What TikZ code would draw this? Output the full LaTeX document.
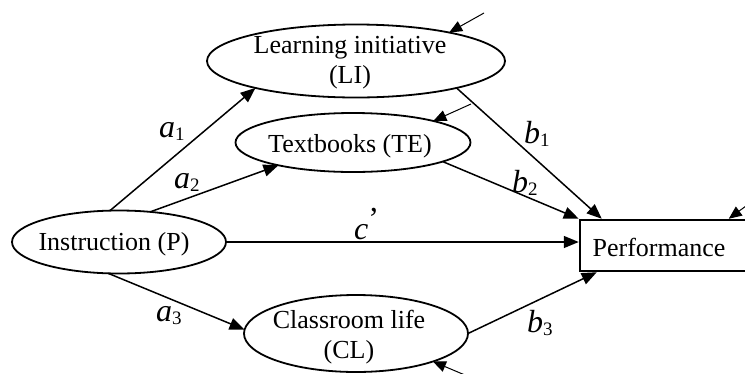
\documentclass[tikz,border=0pt]{standalone}
\usepackage{fontspec}
\setmainfont{Liberation Serif}
\usetikzlibrary{arrows.meta,shapes.geometric,calc}
\newcommand\coefsub[2]{\textit{#1}\raisebox{-3pt}{\fontsize{19}{21}\selectfont #2}}
\begin{document}
\begin{tikzpicture}[x=1pt,y=-1pt,
  ellbox/.style={draw, ellipse, line width=1.8pt, inner sep=0pt, outer sep=0pt},
  lbl/.style={font=\fontsize{26}{30}\selectfont, inner sep=0pt, align=center},
  coef/.style={font=\fontsize{32}{34}\selectfont, inner sep=0pt, anchor=base west},
  link/.style={line width=1.5pt, -{Triangle[length=15pt,width=12pt]}},
  res/.style={line width=1pt, -{Triangle[length=13pt,width=11pt]}}]
\useasboundingbox (0,0) rectangle (745,373);
% ellipses
\node[ellbox, minimum width=298pt, minimum height=73pt] (LI) at (356,61) {};
\node[ellbox, minimum width=235pt, minimum height=59pt] (TE) at (353,142.5) {};
\node[ellbox, minimum width=214pt, minimum height=63pt] (IP) at (119,242) {};
\node[ellbox, minimum width=224pt, minimum height=77pt] (CL) at (356,333.5) {};
\node[draw, rectangle, line width=2.5pt, inner sep=0pt, minimum width=180pt, minimum height=51pt] (PF) at (670,245.5) {};
% texts
\node[lbl] (LIt) at (350,63) {Learning initiative\\(LI)};
\node[lbl] (TEt) at (350,146) {Textbooks (TE)};
\node[lbl] (IPt) at (114,244) {Instruction (P)};
\node[lbl] (CLt) at (349,337) {Classroom life\\(CL)};
\node[lbl] (PFt) at (659,247) {Performance};
% paths
\draw[link] (IP.106) -- (LI.195);
\draw[link] (IP.44) -- (TE.197);
\draw[link] (IP.251) -- (CL.178);
\draw[link] (IP.east) -- (IP.east -| PF.west);
\draw[link] (LI.-15) -- ($(PF.north west)+(23,0)$);
\draw[link] (TE.-12.5) -- (PF.north west);
\draw[link] (CL.east) -- ($(PF.south west)+(18,0)$);
% coefficients
\node[coef] (a1) at (159,137) {\coefsub{a}{1}};
\node[coef] (a2) at (174,188) {\coefsub{a}{2}};
\node[coef] (a3) at (156,321) {\coefsub{a}{3}};
\node[coef] (b1) at (524,143) {\coefsub{b}{1}};
\node[coef] (b2) at (512,192) {\coefsub{b}{2}};
\node[coef] (b3) at (527,332) {\coefsub{b}{3}};
\node[coef] (cp) at (354,239) {\textit{c}\raisebox{10pt}{’}};
% residual arrows
\coordinate (rLI) at (484,13);
\coordinate (rTE) at (471,104);
\coordinate (rPF) at (750,203);
\coordinate (rCL) at (472,378);
\draw[res] (rLI) -- (LI.17);
\draw[res] (rTE) -- (TE.15);
\draw[res] (rPF) -- ($(PF.north west)+(150,0)$);
\draw[res] (rCL) -- (CL.-20);
\end{tikzpicture}
\end{document}
